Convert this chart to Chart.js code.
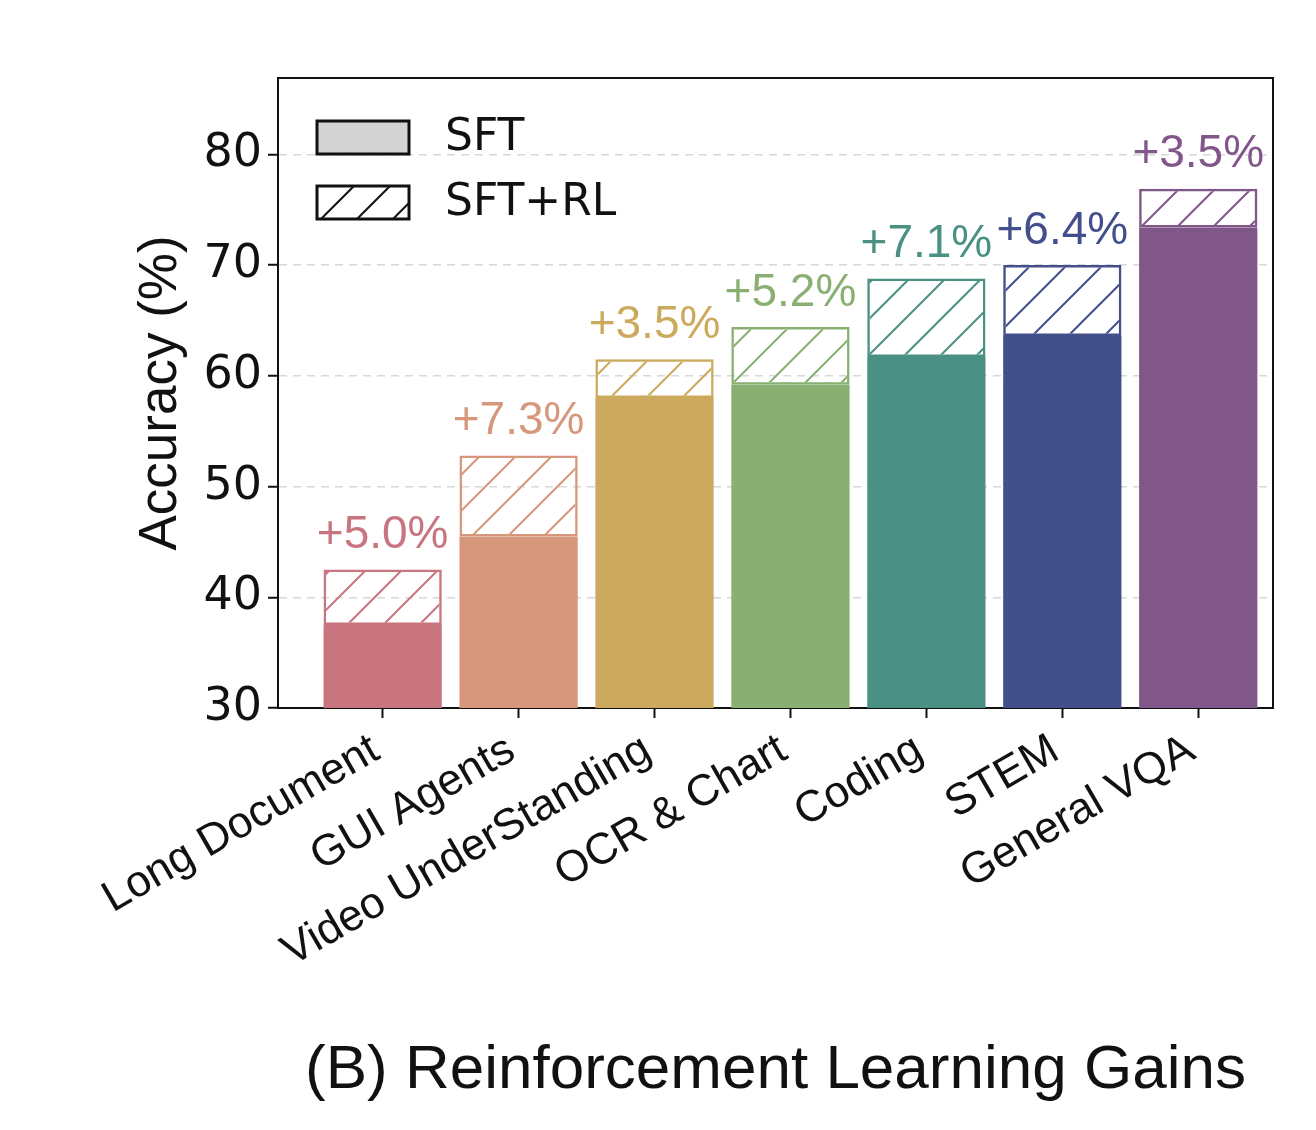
<!DOCTYPE html>
<html>
<head>
<meta charset="utf-8">
<script src="https://cdn.jsdelivr.net/npm/chart.js@4.4.1/dist/chart.umd.min.js"></script>
<style>
  html, body { margin: 0; padding: 0; background: #fff; }
</style>
</head>
<body>
<canvas id="chart" width="1316" height="1130"></canvas>
<script>
const categories = ['Long Document', 'GUI Agents', 'Video UnderStanding', 'OCR & Chart', 'Coding', 'STEM', 'General VQA'];
const sftScores = [37.5, 45.5, 58.0, 59.2, 61.7, 63.6, 73.4];
const rlGains = [5.0, 7.3, 3.5, 5.2, 7.1, 6.4, 3.5];
const barColors = ['#c8757f', '#d6977d', '#cbaa5d', '#89b072', '#4a9184', '#424f8a', '#815789'];
const yTicks = [30, 40, 50, 60, 70, 80];

// diagonal hatch, transparent background
function hatch(color) {
  const s = 36;
  const c = document.createElement('canvas');
  c.width = s; c.height = s;
  const g = c.getContext('2d');
  g.strokeStyle = color;
  g.lineWidth = 2;
  g.beginPath();
  g.moveTo(0, s); g.lineTo(s, 0);
  g.moveTo(-2, 2); g.lineTo(2, -2);
  g.moveTo(s - 2, s + 2); g.lineTo(s + 2, s - 2);
  g.stroke();
  return document.getElementById('chart').getContext('2d').createPattern(c, 'repeat');
}

const extras = {
  id: 'extras',
  afterDatasetsDraw(chart) {
    const { ctx, chartArea: a, scales: { x, y } } = chart;
    ctx.save();
    // top and right spines
    ctx.strokeStyle = '#111';
    ctx.lineWidth = 2;
    ctx.beginPath();
    ctx.moveTo(a.left, a.top);
    ctx.lineTo(a.right, a.top);
    ctx.lineTo(a.right, a.bottom);
    ctx.stroke();

    // gain labels
    ctx.font = '46px "Liberation Sans", Arial, sans-serif';
    ctx.textAlign = 'center';
    ctx.textBaseline = 'bottom';
    rlGains.forEach((g, i) => {
      ctx.fillStyle = barColors[i];
      ctx.fillText('+' + g.toFixed(1) + '%', x.getPixelForValue(i), y.getPixelForValue(sftScores[i] + g) - 11);
    });

    // legend
    const bx = a.left + 39, bw = 92, bh = 33;
    const rows = [
      { label: 'SFT', top: a.top + 43, fill: '#d3d3d3' },
      { label: 'SFT+RL', top: a.top + 108, fill: hatch('#111') }
    ];
    ctx.font = '44px "DejaVu Sans", sans-serif';
    ctx.textAlign = 'left';
    ctx.textBaseline = 'middle';
    rows.forEach(r => {
      ctx.fillStyle = r.fill;
      ctx.fillRect(bx, r.top, bw, bh);
      ctx.lineWidth = 3;
      ctx.strokeStyle = '#111';
      ctx.strokeRect(bx, r.top, bw, bh);
      ctx.fillStyle = '#111';
      ctx.fillText(r.label, bx + 128, r.top + bh / 2 + 1);
    });
    ctx.restore();
  }
};

new Chart(document.getElementById('chart'), {
  type: 'bar',
  data: {
    datasets: [
      {
        label: 'SFT',
        data: sftScores.map((v, i) => ({ x: i, y: v })),
        backgroundColor: barColors,
        borderWidth: 0,
        categoryPercentage: 1,
        barPercentage: 0.87
      },
      {
        label: 'SFT+RL',
        data: rlGains.map((v, i) => ({ x: i, y: v })),
        backgroundColor: barColors.map(hatch),
        borderColor: barColors,
        borderWidth: 2.5,
        borderSkipped: false,
        categoryPercentage: 1,
        barPercentage: 0.87
      }
    ]
  },
  options: {
    responsive: false,
    animation: false,
    devicePixelRatio: 1,
    layout: { padding: { top: 78, right: 43, bottom: 12, left: 0 } },
    plugins: {
      legend: { display: false },
      tooltip: { enabled: false },
      title: {
        display: true,
        position: 'bottom',
        fullSize: false,
        text: '(B) Reinforcement Learning Gains',
        color: '#111',
        font: { family: '"Liberation Sans", Arial, sans-serif', size: 62, weight: 'normal' },
        padding: { top: 10, bottom: 10 }
      }
    },
    scales: {
      x: {
        type: 'linear',
        stacked: true,
        offset: false,
        min: -0.77,
        max: 6.55,
        afterBuildTicks: (s) => { s.ticks = categories.map((c, i) => ({ value: i })); },
        afterFit: (s) => { s.height = 315.6; },
        grid: { offset: false, drawOnChartArea: false, drawTicks: true, tickLength: 10, tickWidth: 2, tickColor: '#111' },
        border: { display: true, color: '#111', width: 2 },
        ticks: {
          autoSkip: false,
          minRotation: 30,
          maxRotation: 30,
          padding: 6,
          labelOffset: -7,
          color: '#111',
          font: { family: '"Liberation Sans", Arial, sans-serif', size: 44 },
          callback: (v) => categories[v] ?? ''
        }
      },
      y: {
        stacked: true,
        min: 30,
        max: 86.9,
        afterBuildTicks: (s) => { s.ticks = yTicks.map(v => ({ value: v })); },
        afterFit: (s) => { s.width = 278; },
        grid: { color: '#d8d8d8', lineWidth: 1.5, tickColor: '#111', tickLength: 10, tickWidth: 2 },
        border: { display: true, color: '#111', width: 2, dash: [8, 6] },
        ticks: {
          color: '#111',
          padding: 6,
          font: { family: '"DejaVu Sans", sans-serif', size: 46 }
        },
        title: {
          display: true,
          text: 'Accuracy (%)',
          color: '#111',
          font: { family: '"Liberation Sans", Arial, sans-serif', size: 53 },
          padding: { top: 130, bottom: 0 }
        }
      }
    }
  },
  plugins: [extras]
});
</script>
</body>
</html>
